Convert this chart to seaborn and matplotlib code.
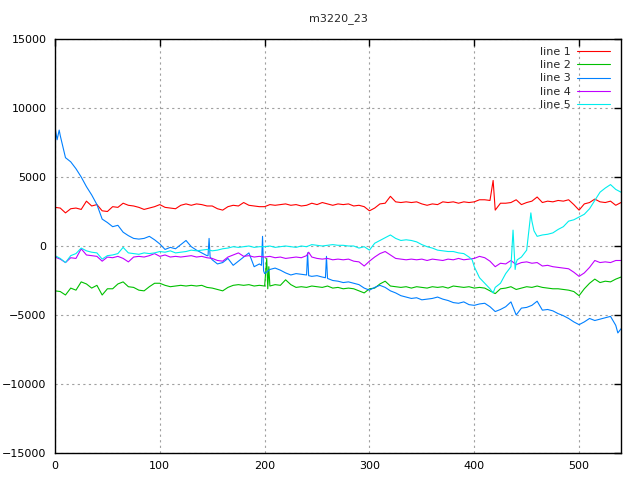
import numpy as np
import pandas as pd
import matplotlib
matplotlib.use("Agg")
import matplotlib.pyplot as plt
import seaborn as sns

title = "m3220_23"
series_names = ["line 1", "line 2", "line 3", "line 4", "line 5"]
colors = ["#ff0000", "#00c000", "#0080ff", "#c000ff", "#00eeee"]
x_ticks = [0, 100, 200, 300, 400, 500]
y_ticks = [-15000, -10000, -5000, 0, 5000, 10000, 15000]

base_x = list(range(0, 541, 5))

line1 = [2800, 2750, 2400, 2700, 2750, 2650, 3250, 2900, 3000, 2550,
         2500, 2850, 2800, 3100, 2950, 2900, 2800, 2650, 2750, 2850,
         3000, 2800, 2750, 2700, 2950, 3050, 2950, 3050, 3000, 2900,
         2900, 2700, 2600, 2850, 2950, 2900, 3150, 2950, 2900, 2850,
         2850, 3000, 2950, 3000, 3050, 2950, 3000, 2900, 2950, 3100,
         3000, 3150, 3050, 2950, 3050, 3000, 3050, 2900, 2950, 2850,
         2550, 2750, 3050, 3100, 3600, 3200, 3150, 3200, 3150, 3200,
         3050, 2950, 3050, 3000, 3200, 3150, 3200, 3100, 3200, 3150,
         3200, 3350, 3350, 3300, 2600, 3100, 3100, 3150, 3350, 3000,
         3150, 3250, 3550, 3150, 3250, 3200, 3300, 3250, 3350, 3000,
         2600, 3050, 3150, 3400, 3200, 3150, 3250, 2950, 3150]
line1_extra_x = [418]
line1_extra_y = [4750]

line2 = [-3250, -3300, -3550, -3050, -3200, -2600, -2750, -3050, -2850, -3550,
         -3100, -3100, -2750, -2600, -2950, -3000, -3200, -3250, -2950, -2700,
         -2700, -2850, -2950, -2900, -2850, -2900, -2850, -2900, -2850, -3000,
         -3050, -3150, -3250, -3000, -2850, -2800, -2850, -2800, -2900, -2850,
         -2900, -2900, -2800, -2850, -2450, -2800, -3000, -2950, -3000, -2900,
         -2950, -3000, -2900, -3050, -3000, -3100, -3050, -3100, -3250, -3400,
         -3100, -3050, -2750, -2550, -2900, -2950, -3000, -2950, -3050, -2950,
         -3000, -3050, -2950, -3000, -2950, -3050, -2900, -2950, -3000, -2950,
         -3050, -3000, -3050, -3250, -3450, -3100, -3050, -2950, -3150, -3050,
         -2950, -3000, -2900, -3000, -3050, -3100, -3100, -3150, -3200, -3300,
         -3600, -3100, -2700, -2400, -2650, -2550, -2600, -2400, -2250]
line2_extra_x = [202, 203, 204]
line2_extra_y = [-900, -3100, -1500]

line3 = [8600, 8000, 6400, 6100, 5600, 5000, 4300, 3700, 3000, 1950,
         1700, 1400, 1500, 1000, 750, 550, 500, 550, 700, 450,
         150, -250, -100, -200, 100, 400, -50, -300, -500, -700,
         -1000, -1300, -1200, -900, -1400, -1100, -800, -500, -1500, -1300,
         -2000, -1700, -1600, -1750, -1950, -2100, -2000, -2050, -2100, -2200,
         -2150, -2250, -2350, -2500, -2550, -2650, -2600, -2700, -2800, -3050,
         -3200, -3000, -2850, -3000, -3250, -3400, -3600, -3700, -3800, -3750,
         -3900, -3850, -3800, -3700, -3850, -3950, -4100, -4150, -4050, -4250,
         -4300, -4200, -4150, -4400, -4750, -4600, -4400, -4050, -5000, -4500,
         -4450, -4300, -4000, -4650, -4600, -4700, -4900, -5050, -5250, -5500,
         -5700, -5500, -5250, -5400, -5300, -5200, -5100, -5750, -6000]
line3_extra_x = [2, 4, 146, 147, 148, 197, 198, 199, 241, 242, 258, 259, 537]
line3_extra_y = [7700, 8400, -700, 550, -800, -1400, 700, -1800, -500, -2150, -2300, -750, -6300]

line4 = [-800, -950, -1200, -850, -900, -200, -650, -700, -750, -1100,
         -800, -850, -750, -900, -1150, -800, -750, -800, -700, -550,
         -750, -650, -800, -750, -800, -750, -700, -800, -750, -850,
         -900, -1050, -1100, -800, -650, -500, -750, -700, -800, -750,
         -800, -750, -850, -800, -900, -850, -800, -850, -700, -800,
         -900, -950, -900, -1000, -950, -1000, -950, -1100, -1150, -1450,
         -1100, -800, -550, -400, -650, -900, -950, -1000, -950, -1000,
         -950, -1050, -950, -1000, -1050, -950, -1000, -900, -1000, -950,
         -900, -750, -850, -1100, -1500, -1250, -1300, -1050, -1350, -1200,
         -1150, -1250, -1200, -1450, -1400, -1500, -1550, -1600, -1650, -1900,
         -2200, -1950, -1550, -1050, -1200, -1150, -1200, -1050, -1050]
line4_extra_x = [242]
line4_extra_y = [-450]

line5 = [-700, -900, -1200, -700, -550, -150, -350, -450, -500, -950,
         -700, -650, -550, -100, -500, -550, -600, -500, -550, -500,
         -400, -450, -350, -500, -450, -400, -300, -350, -300, -250,
         -350, -300, -200, -150, -50, -100, -50, 0, -100, -50,
         -50, 0, -100, -50, 0, -50, -100, 0, -50, 100,
         50, 0, 50, 100, 50, 50, 0, 0, -150, -50,
         -300, 200, 400, 600, 800, 550, 400, 450, 400, 300,
         100, -50, -150, -300, -350, -400, -400, -500, -550, -800,
         -1500, -2300, -2700, -3100, -3000, -2700, -2000, -1500, -1200, -800,
         -300, 1800, 700, 800, 850, 950, 1200, 1400, 1800, 1900,
         2100, 2300, 2700, 3300, 3900, 4200, 4450, 4100, 3900]
line5_extra_x = [398, 418, 437, 439, 441, 454, 457]
line5_extra_y = [-1000, -3400, 1150, -1700, -1000, 2400, 1100]

all_series = [
    (line1, line1_extra_x, line1_extra_y),
    (line2, line2_extra_x, line2_extra_y),
    (line3, line3_extra_x, line3_extra_y),
    (line4, line4_extra_x, line4_extra_y),
    (line5, line5_extra_x, line5_extra_y),
]

frames = []
for name, (vals, ex, ey) in zip(series_names, all_series):
    xs = list(base_x) + list(ex)
    ys = list(vals) + list(ey)
    frames.append(pd.DataFrame({"x": xs, "y": ys, "series": name}))
df = pd.concat(frames, ignore_index=True).sort_values(["series", "x"])

sns.set_style("white")
plt.rcParams["font.family"] = ["DejaVu Sans"]

fig = plt.figure(figsize=(6.4, 4.8), dpi=100)
ax = fig.add_axes([55 / 640, 1 - 453 / 480, (621 - 55) / 640, (453 - 39) / 480])

sns.lineplot(data=df, x="x", y="y", hue="series", hue_order=series_names,
             palette=colors, estimator=None, sort=True, linewidth=0.8,
             ax=ax, legend=True)

ax.set_xlim(0, 540)
ax.set_ylim(-15000, 15000)
ax.set_xticks(x_ticks)
ax.set_yticks(y_ticks)
ax.set_xlabel("")
ax.set_ylabel("")
ax.grid(True, color="#a0a0a0", linestyle=(0, (2, 3)), linewidth=0.8)
ax.set_axisbelow(True)
for sp in ax.spines.values():
    sp.set_color("black")
    sp.set_linewidth(1.0)
ax.tick_params(direction="in", length=5, width=1, top=True, right=True,
               labelsize=8, colors="black", pad=6)
ax.set_title(title, fontsize=8, pad=13)

handles, labels = ax.get_legend_handles_labels()
leg = ax.legend(handles, labels, loc="upper right", frameon=False,
                markerfirst=False, fontsize=8, handlelength=3.0,
                handletextpad=0.6, labelspacing=0.3,
                borderaxespad=0.3, bbox_to_anchor=(0.995, 1.0))

fig.savefig("out.png", dpi=100, facecolor="white")
